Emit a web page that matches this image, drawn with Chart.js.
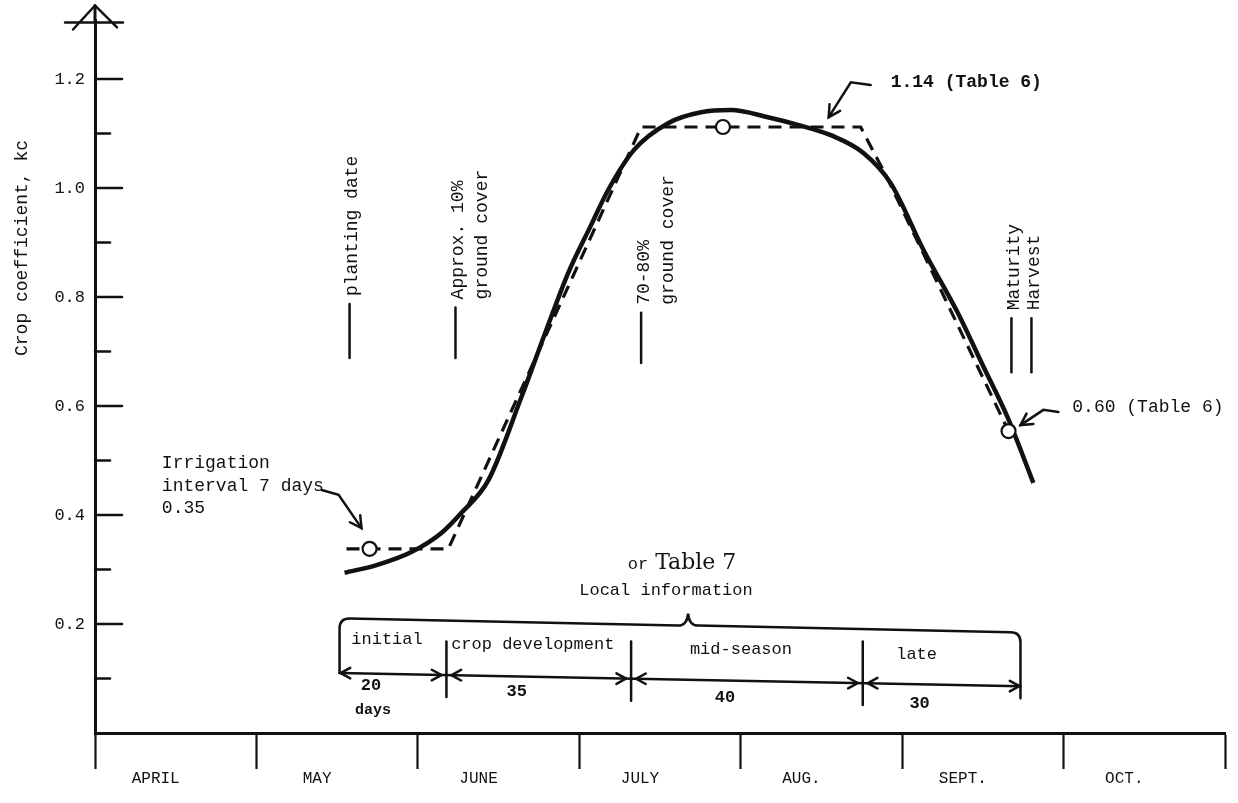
<!DOCTYPE html>
<html>
<head>
<meta charset="utf-8">
<title>Crop coefficient curve</title>
<script src="https://cdn.jsdelivr.net/npm/chart.js@4.4.1/dist/chart.umd.min.js"></script>
<style>
  body { margin: 0; background: #fff; }
  #wrap { width: 1238px; height: 803px; }
</style>
</head>
<body>
<div id="wrap"><canvas id="kcChart"></canvas></div>
<script>
// months along the bottom (x runs in months from 1 April)
const months = ["APRIL", "MAY", "JUNE", "JULY", "AUG.", "SEPT.", "OCT."];

// kc ticks, labels on every other one
const yTicks = [0.1, 0.2, 0.3, 0.4, 0.5, 0.6, 0.7, 0.8, 0.9, 1.0, 1.1, 1.2];
const yTickLabels = ["", "0.2", "", "0.4", "", "0.6", "", "0.8", "", "1.0", "", "1.2"];

// smooth kc curve
const curveMonth = [1.546, 1.744, 1.960, 2.146, 2.270, 2.437, 2.641, 2.795, 2.931, 3.073, 3.178, 3.339, 3.550,
  3.754, 3.939, 4.168, 4.354, 4.558, 4.762, 4.929, 5.133, 5.343, 5.504, 5.652, 5.813];
const curveKc = [0.294, 0.308, 0.332, 0.367, 0.404, 0.464, 0.616, 0.739, 0.844, 0.932, 0.996, 1.070, 1.119,
  1.139, 1.143, 1.130, 1.116, 1.097, 1.064, 1.009, 0.886, 0.772, 0.672, 0.580, 0.459];

// dashed straight-line version by stage
const stageLineMonth = [1.558, 2.189, 3.383, 4.743, 4.898, 5.659];
const stageLineKc = [0.338, 0.338, 1.112, 1.112, 1.024, 0.554];

// circled kc values
const pointMonth = [1.701, 3.890, 5.659];
const pointKc = [0.338, 1.112, 0.554];

// growth stages
const stageNames = ["initial", "crop development", "mid-season", "late"];
const stageDays = ["20", "35", "40", "30"];
const stageBounds = [1.515, 2.177, 3.321, 4.756, 5.733];

// vertical markers: month, text lines, kc span of the little line
const markers = [
  { m: 1.577, lines: ["planting date"], top: 0.787, bottom: 0.688 },
  { m: 2.233, lines: ["Approx. 10%", "ground cover"], top: 0.781, bottom: 0.688 },
  { m: 3.383, lines: ["70-80%", "ground cover"], top: 0.771, bottom: 0.679 },
  { m: 5.677, lines: ["Maturity"], top: 0.761, bottom: 0.662 },
  { m: 5.801, lines: ["Harvest"], top: 0.761, bottom: 0.662 }
];

// call-outs: text anchor and leader path (month, kc), last point is the arrow tip
const notes = [
  { text: ["Irrigation", "interval 7 days", "0.35"], at: [0.414, 0.495], path: [[1.404, 0.446], [1.509, 0.437], [1.651, 0.376]] },
  { text: ["1.14 (Table 6)"], at: [4.929, 1.193], path: [[4.805, 1.189], [4.682, 1.194], [4.545, 1.130]], bold: true },
  { text: ["0.60 (Table 6)"], at: [6.054, 0.598], path: [[5.968, 0.589], [5.875, 0.593], [5.733, 0.565]] }
];

const MONO = "'Liberation Mono', 'DejaVu Sans Mono', monospace";
const INK = "#111";

function arrowHead(ctx, x0, y0, x1, y1, size) {
  const a = Math.atan2(y1 - y0, x1 - x0);
  ctx.beginPath();
  ctx.moveTo(x1 - size * Math.cos(a - 0.5), y1 - size * Math.sin(a - 0.5));
  ctx.lineTo(x1, y1);
  ctx.lineTo(x1 - size * Math.cos(a + 0.5), y1 - size * Math.sin(a + 0.5));
  ctx.stroke();
}

// everything hand-drawn on the original goes here
const sketch = {
  id: "sketch",
  afterDraw(chart) {
    const ctx = chart.ctx;
    const xs = chart.scales.xv, ys = chart.scales.y;
    const X = v => xs.getPixelForValue(v);
    const Y = v => ys.getPixelForValue(v);
    const left = chart.chartArea.left, top = chart.chartArea.top;

    ctx.save();
    ctx.strokeStyle = INK;
    ctx.fillStyle = INK;
    ctx.lineCap = "round";

    // inward ticks on the kc axis
    ctx.lineWidth = 2.5;
    yTicks.forEach((v, i) => {
      const len = yTickLabels[i] ? 27 : 15;
      ctx.beginPath();
      ctx.moveTo(left, Y(v));
      ctx.lineTo(left + len, Y(v));
      ctx.stroke();
    });

    // axis runs on up to an arrow with a cross bar
    const apex = Y(1.335);
    ctx.lineWidth = 3;
    ctx.beginPath();
    ctx.moveTo(left, top);
    ctx.lineTo(left, apex);
    ctx.stroke();
    ctx.lineWidth = 2.5;
    ctx.beginPath();
    ctx.moveTo(left - 22, apex + 24);
    ctx.lineTo(left, apex);
    ctx.lineTo(left + 22, apex + 22);
    ctx.moveTo(left - 30, apex + 17);
    ctx.lineTo(left + 28, apex + 17);
    ctx.stroke();

    // axis title
    ctx.save();
    ctx.translate(22, Y(0.89));
    ctx.rotate(-Math.PI / 2);
    ctx.font = "18px " + MONO;
    ctx.textAlign = "center";
    ctx.textBaseline = "middle";
    ctx.fillText("Crop coefficient, kc", 0, 0);
    ctx.restore();

    // vertical markers
    ctx.font = "18px " + MONO;
    markers.forEach(mk => {
      const x = X(mk.m);
      ctx.lineWidth = 2.5;
      ctx.beginPath();
      ctx.moveTo(x, Y(mk.top));
      ctx.lineTo(x, Y(mk.bottom));
      ctx.stroke();
      ctx.save();
      ctx.translate(x + 3, Y(mk.top) - 8);
      ctx.rotate(-Math.PI / 2);
      ctx.textAlign = "left";
      ctx.textBaseline = "middle";
      mk.lines.forEach((t, i) => ctx.fillText(t, 0, i * 24));
      ctx.restore();
    });

    // call-outs
    notes.forEach(n => {
      ctx.font = (n.bold ? "bold " : "") + "18px " + MONO;
      ctx.textAlign = "left";
      ctx.textBaseline = "middle";
      n.text.forEach((t, i) => ctx.fillText(t, X(n.at[0]), Y(n.at[1]) + i * 22.5));
      const pts = n.path.map(p => [X(p[0]), Y(p[1])]);
      ctx.lineWidth = 2.5;
      ctx.beginPath();
      pts.forEach((p, i) => (i ? ctx.lineTo(p[0], p[1]) : ctx.moveTo(p[0], p[1])));
      ctx.stroke();
      const a = pts[pts.length - 2], b = pts[pts.length - 1];
      arrowHead(ctx, a[0], a[1], b[0], b[1], 13);
    });

    // stage bracket
    const x0 = X(stageBounds[0]), x4 = X(stageBounds[4]);
    const yTop = x => Y(0.210) + (x - x0) / (x4 - x0) * (Y(0.185) - Y(0.210));
    const yDim = x => Y(0.110) + (x - x0) / (x4 - x0) * (Y(0.086) - Y(0.110));
    const xc = X(3.674), r = 10;
    ctx.lineWidth = 2.5;
    ctx.beginPath();
    ctx.moveTo(x0, yDim(x0));
    ctx.lineTo(x0, yTop(x0) + r);
    ctx.quadraticCurveTo(x0, yTop(x0), x0 + r, yTop(x0));
    ctx.lineTo(xc - 10, yTop(xc));
    ctx.quadraticCurveTo(xc - 1, yTop(xc), xc, yTop(xc) - 12);
    ctx.quadraticCurveTo(xc + 1, yTop(xc), xc + 10, yTop(xc));
    ctx.lineTo(x4 - r, yTop(x4));
    ctx.quadraticCurveTo(x4, yTop(x4), x4, yTop(x4) + r);
    ctx.lineTo(x4, yDim(x4) + 12);
    ctx.stroke();

    // dimension line with arrows and stage dividers
    ctx.beginPath();
    ctx.moveTo(x0, yDim(x0));
    ctx.lineTo(x4, yDim(x4));
    ctx.stroke();
    for (let i = 1; i < stageBounds.length - 1; i++) {
      const xd = X(stageBounds[i]);
      ctx.beginPath();
      ctx.moveTo(xd, Y(0.168));
      ctx.lineTo(xd, yDim(xd) + 22);
      ctx.stroke();
    }
    for (let i = 0; i < stageNames.length; i++) {
      const a = X(stageBounds[i]) + (i ? 5 : 1), b = X(stageBounds[i + 1]) - (i < 3 ? 5 : 1);
      arrowHead(ctx, a + 20, yDim(a), a, yDim(a), 11);
      arrowHead(ctx, b - 20, yDim(b), b, yDim(b), 11);
      const mid = (X(stageBounds[i]) + X(stageBounds[i + 1])) / 2;
      ctx.font = "17px " + MONO;
      ctx.textAlign = "center";
      ctx.textBaseline = "middle";
      ctx.fillText(stageNames[i], mid - (i === 3 ? 25 : 6), Y(0.172) + i * 5);
      ctx.font = "bold 17px " + MONO;
      ctx.fillText(stageDays[i], mid - 22, Y(0.087) + i * 6);
    }
    ctx.font = "bold 15px " + MONO;
    ctx.fillText("days", X((stageBounds[0] + stageBounds[1]) / 2) - 20, Y(0.042));

    // source notes above the bracket
    ctx.textAlign = "left";
    ctx.font = "17px " + MONO;
    ctx.fillText("or", X(3.30), Y(0.31));
    ctx.font = "22px 'DejaVu Serif', serif";
    ctx.fillText("Table 7", X(3.47), Y(0.312));
    ctx.font = "17px " + MONO;
    ctx.textAlign = "center";
    ctx.fillText("Local information", X(3.537), Y(0.261));

    ctx.restore();
  }
};

new Chart(document.getElementById("kcChart"), {
  type: "line",
  data: {
    labels: months,
    datasets: [
      {
        label: "Table values",
        data: pointMonth.map((m, i) => ({ x: m, y: pointKc[i] })),
        xAxisID: "xv",
        showLine: false,
        pointRadius: 7,
        pointBackgroundColor: "#fff",
        pointBorderColor: INK,
        pointBorderWidth: 2.2,
        order: 0
      },
      {
        label: "kc curve",
        data: curveMonth.map((m, i) => ({ x: m, y: curveKc[i] })),
        xAxisID: "xv",
        borderColor: INK,
        borderWidth: 4.5,
        pointRadius: 0,
        cubicInterpolationMode: "monotone",
        fill: false,
        order: 1
      },
      {
        label: "stage kc",
        data: stageLineMonth.map((m, i) => ({ x: m, y: stageLineKc[i] })),
        xAxisID: "xv",
        borderColor: INK,
        borderWidth: 3.2,
        borderDash: [13, 8],
        pointRadius: 0,
        tension: 0,
        fill: false,
        order: 2
      }
    ]
  },
  options: {
    responsive: true,
    maintainAspectRatio: false,
    animation: false,
    layout: { padding: { top: 0, right: 13, bottom: 0, left: 0 } },
    plugins: { legend: { display: false }, tooltip: { enabled: false } },
    scales: {
      x: {
        type: "category",
        offset: true,
        grid: { offset: true, drawOnChartArea: false, drawTicks: true, tickLength: 36, tickWidth: 2.2, tickColor: INK },
        border: { display: true, color: INK, width: 3 },
        ticks: { font: { family: MONO, size: 16 }, color: INK, padding: 0, labelOffset: -20, maxRotation: 0, autoSkip: false },
        afterFit: s => { s.height = 70; }
      },
      xv: { type: "linear", display: false, min: 0, max: 7 },
      y: {
        min: 0,
        max: 1.308,
        afterBuildTicks: s => { s.ticks = yTicks.map(v => ({ value: v })); },
        grid: { display: false, drawTicks: false },
        border: { display: true, color: INK, width: 3 },
        ticks: { callback: (v, i) => yTickLabels[i], font: { family: MONO, size: 17 }, color: INK, padding: 10 },
        afterFit: s => { s.width = 95; }
      }
    }
  },
  plugins: [sketch]
});
</script>
</body>
</html>
